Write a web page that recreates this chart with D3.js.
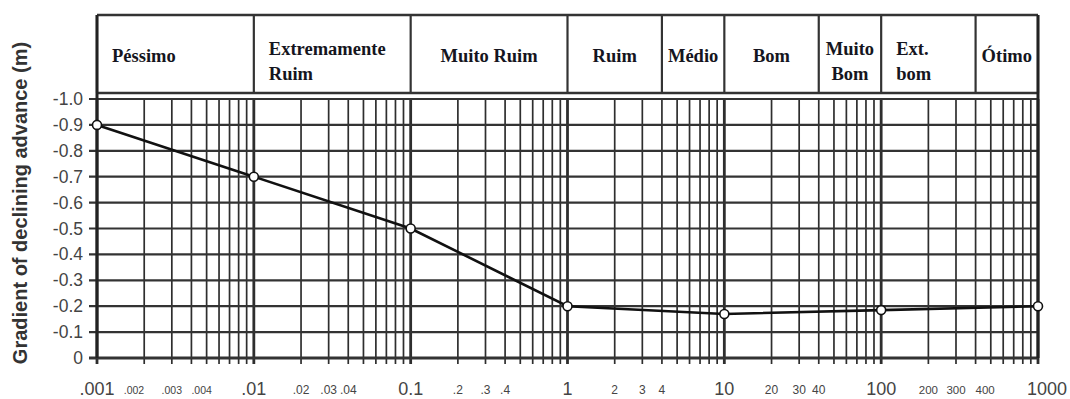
<!DOCTYPE html>
<html lang="en">
    <head>
        <meta charset="utf-8">
        <title>Gradient of declining advance</title>
        <script src="https://d3js.org/d3.v7.min.js"></script>
        <style>
            body { margin: 0; background: #fff; }
            svg { display: block; }
        </style>
    </head>
    <body>
        <script type="text/javascript">
        'use strict';

        //data
        var gradX = [0.001, 0.01, 0.1, 1, 10, 100, 1000];
        var gradY = [-0.9, -0.7, -0.5, -0.2, -0.17, -0.185, -0.2];

        var xMajorValues = [0.001, 0.01, 0.1, 1, 10, 100, 1000];
        var xMajorLabels = [".001", ".01", "0.1", "1", "10", "100", "1000"];
        var xMinorValues = [0.002, 0.003, 0.004, 0.02, 0.03, 0.04, 0.2, 0.3, 0.4,
                            2, 3, 4, 20, 30, 40, 200, 300, 400];
        var xMinorLabels = [".002", ".003", ".004", ".02", ".03", ".04", ".2", ".3", ".4",
                            "2", "3", "4", "20", "30", "40", "200", "300", "400"];
        var yTickValues = [0, -0.1, -0.2, -0.3, -0.4, -0.5, -0.6, -0.7, -0.8, -0.9, -1.0];
        var yTickLabels = ["0", "-0.1", "-0.2", "-0.3", "-0.4", "-0.5", "-0.6", "-0.7", "-0.8", "-0.9", "-1.0"];

        // classification bands shown in the header
        var classBounds = [0.001, 0.01, 0.1, 1, 4, 10, 40, 100, 400, 1000];
        var classNames = [["Péssimo"], ["Extremamente", "Ruim"], ["Muito Ruim"], ["Ruim"], ["Médio"],
                          ["Bom"], ["Muito", "Bom"], ["Ext.", "bom"], ["Ótimo"]];
        var classAlign = ["start", "start", "middle", "middle", "middle", "middle", "middle", "start", "middle"];

        var w = 1070;
        var h = 399;
        var plotLeft = 97, plotRight = 1038;
        var headTop = 15, headBottom = 93;

        var xScale = d3.scaleLog()
            .domain([0.001, 1000])
            .range([plotLeft, plotRight]);
        var yScale = d3.scaleLinear()
            .domain([0, -1.0])
            .range([358, 99]);

        var svg = d3.select("body")
                    .append("svg")
                    .attr("width", w)
                    .attr("height", h);

        // all 1..9 gridlines for each decade
        var gridVals = [];
        for (var e = -3; e < 3; e++) {
            for (var k = 1; k < 10; k++) {
                gridVals.push(k * Math.pow(10, e));
            }
        }
        gridVals.push(1000);

        svg.append("g")
            .selectAll("line")
            .data(gridVals)
            .enter()
            .append("line")
            .attr("x1", function(d){ return xScale(d); })
            .attr("x2", function(d){ return xScale(d); })
            .attr("y1", yScale(-1.0))
            .attr("y2", yScale(0) + 6)
            .attr("stroke", "#2e2e2e")
            .attr("stroke-width", function(d){
                var l = Math.log10(d);
                return Math.abs(l - Math.round(l)) < 1e-9 ? 2.8 : 1.7;
            });

        // horizontal gridlines + y ticks
        svg.append("g")
            .selectAll("line")
            .data(yTickValues)
            .enter()
            .append("line")
            .attr("x1", plotLeft - 8)
            .attr("x2", plotRight)
            .attr("y1", function(d){ return yScale(d); })
            .attr("y2", function(d){ return yScale(d); })
            .attr("stroke", "#333")
            .attr("stroke-width", function(d){ return d === 0 ? 3 : 2.2; });

        svg.append("g")
            .selectAll("text")
            .data(yTickValues)
            .enter()
            .append("text")
            .text(function(d, i){ return yTickLabels[i]; })
            .attr("x", plotLeft - 14)
            .attr("y", function(d){ return yScale(d) + 6; })
            .attr("text-anchor", "end")
            .attr("font-family", "'Liberation Sans', Arial, sans-serif")
            .attr("font-size", "17.5px")
            .attr("fill", "#444");

        // x labels
        svg.append("g")
            .selectAll("text")
            .data(xMajorValues)
            .enter()
            .append("text")
            .text(function(d, i){ return xMajorLabels[i]; })
            .attr("x", function(d){ return xScale(d) + (d === 1000 ? 9 : 0); })
            .attr("y", 395)
            .attr("text-anchor", "middle")
            .attr("font-family", "'Liberation Sans', Arial, sans-serif")
            .attr("font-size", "18px")
            .attr("fill", "#444");

        // crowded decades: .002 ends at its tick, .004 / 400 start at theirs
        svg.append("g")
            .selectAll("text")
            .data(xMinorValues)
            .enter()
            .append("text")
            .text(function(d, i){ return xMinorLabels[i]; })
            .attr("x", function(d){ return xScale(d); })
            .attr("y", 394)
            .attr("text-anchor", function(d){
                if (d === 0.002) return "end";
                if (d === 0.004 || d === 400) return "start";
                return "middle";
            })
            .attr("font-family", "'Liberation Sans', Arial, sans-serif")
            .attr("font-size", function(d){ return d < 0.01 ? "10.5px" : (d > 100 ? "11.5px" : "12px"); })
            .attr("fill", "#444");

        // header box
        var head = svg.append("g");
        head.append("line")
            .attr("x1", plotLeft).attr("x2", plotRight)
            .attr("y1", headTop).attr("y2", headTop)
            .attr("stroke", "#333").attr("stroke-width", 2.6);
        head.append("line")
            .attr("x1", plotLeft).attr("x2", plotRight)
            .attr("y1", headBottom).attr("y2", headBottom)
            .attr("stroke", "#333").attr("stroke-width", 2.6);
        head.selectAll("line.div")
            .data(classBounds)
            .enter()
            .append("line")
            .attr("class", "div")
            .attr("x1", function(d){ return xScale(d); })
            .attr("x2", function(d){ return xScale(d); })
            .attr("y1", headTop)
            .attr("y2", headBottom)
            .attr("stroke", "#333")
            .attr("stroke-width", 2.2);

        // outer borders through the gap
        [0.001, 1000].forEach(function(v){
            svg.append("line")
                .attr("x1", xScale(v)).attr("x2", xScale(v))
                .attr("y1", headTop).attr("y2", yScale(0))
                .attr("stroke", "#222").attr("stroke-width", 3);
        });

        var labels = head.selectAll("text.cls")
            .data(classNames)
            .enter()
            .append("text")
            .attr("class", "cls")
            .attr("font-family", "'Liberation Serif', 'Times New Roman', serif")
            .attr("font-weight", "bold")
            .attr("font-size", "18.5px")
            .attr("fill", "#151520")
            .attr("text-anchor", function(d, i){ return classAlign[i]; })
            .attr("x", function(d, i){
                var a = xScale(classBounds[i]), b = xScale(classBounds[i + 1]);
                return classAlign[i] === "start" ? a + 15 : (a + b) / 2;
            });
        labels.selectAll("tspan")
            .data(function(d){ return d; })
            .enter()
            .append("tspan")
            .attr("x", function(){ return d3.select(this.parentNode).attr("x"); })
            .attr("y", function(d, j, nodes){
                return nodes.length === 1 ? 62 : 55 + j * 25;
            })
            .text(function(d){ return d; });

        // data line
        var pts = gradX.map(function(d, i){ return [d, gradY[i]]; });
        svg.append("path")
            .datum(pts)
            .attr("d", d3.line()
                .x(function(d){ return xScale(d[0]); })
                .y(function(d){ return yScale(d[1]); }))
            .attr("fill", "none")
            .attr("stroke", "#111")
            .attr("stroke-width", 2.6);

        svg.selectAll("circle")
            .data(pts)
            .enter()
            .append("circle")
            .attr("cx", function(d){ return xScale(d[0]); })
            .attr("cy", function(d){ return yScale(d[1]); })
            .attr("r", 4.5)
            .attr("fill", "#fff")
            .attr("stroke", "#111")
            .attr("stroke-width", 1.6);

        // y axis title
        svg.append("text")
            .text("Gradient of declining advance (m)")
            .attr("transform", "translate(27,203) rotate(-90)")
            .attr("text-anchor", "middle")
            .attr("font-family", "'Liberation Sans', Arial, sans-serif")
            .attr("font-weight", "bold")
            .attr("font-size", "20px")
            .attr("fill", "#333");
        </script>
    </body>
</html>
